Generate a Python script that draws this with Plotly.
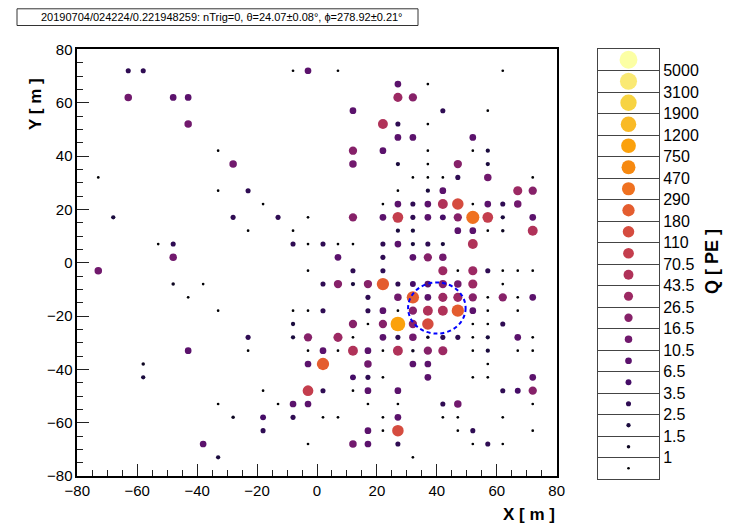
import plotly.graph_objects as go
import plotly.colors as pc

# ---------------- data: (x [m], y [m], charge level index 0..19) ----------------
x_pos = [
    -63, -58, -63, -48, -43, -43, -33, -28, -73, -33, -68, -28, -53, -48, -48, -73, -48, -38, -43, -33,
    -43, -58, -58, -33, -28, -38, -33,
    -8, -3, 7, 27, 27, 12, 22, 27, 27, 12, 22, 27, 12, -23, 27, -18, 22, 27, -13, -3, 12, 22, 27,
    -23, -8, 27, -8, -3, 2, 7, 12, 22, 27, 7, 22,
    62, 37, 32, 42, 57, 37, 32, 52, 37, 52, 57, 37, 47, 57, 32, 37, 42, 47, 57, 72,
    37, 42, 67, 72, 32, 37, 42, 47, 52, 57, 62, 67, 32, 37, 42, 47, 52, 57, 62, 72,
    32, 47, 52, 57, 62, 72, 32, 37, 42, 52, 32, 37, 42,
    -3, 12, 22, 2, 7, 12, 17, 22, 27, 17, 27, -8, -3, 2, 17, 22, 27, -8, 12, 17, 22, 27,
    -23, -8, -3, 7, 12, 22, 27, -23, -3, 2, 7, 12, 17, 22, 27, -3, 2, 17, 12, 17, 22,
    -18, -3, 2, 12, 17, 27, -13, -8, -3, 17, 27, -18, -8, 2, 7, 22, 27, -18, 17, 22, 27,
    -3, 12, 17, 27,
    42, 47, 52, 57, 62, 67, 72,
    32, 37, 42, 47, 52, 62,
    32, 37, 42, 47, 52, 57, 62, 67, 72,
    32, 37, 42, 47, 52, 57, 67,
    32, 37, 52, 57, 62,
    32, 37, 42, 47, 52, 57, 67, 72,
    32, 37, 42, 52, 57, 67, 72,
    32, 37, 57,
    37, 52, 57, 72,
    62, 67, 72,
    42, 47, 72,
    42, 47, 62,
    47, 52, 72,
    52, 57, 62,
    32,
]
y_pos = [
    72, 72, 62, 62, 62, 52, 42, 37, 32, 27, 17, 17, 7, 7, 2, -3, -8, -8, -13, -18,
    -33, -38, -43, -53, -58, -68, -73,
    72, 72, 72, 67, 62, 57, 52, 52, 47, 42, 42, 37, 37, 27, 27, 22, 22, 22, 17, 17, 17, 17, 17,
    12, 12, 12, 7, 7, 7, 7, 7, 7, 7, 2, 2,
    72, 67, 62, 57, 57, 52, 47, 47, 42, 42, 42, 37, 37, 37, 32, 32, 32, 32, 32, 32,
    27, 27, 27, 27, 22, 22, 22, 22, 22, 22, 22, 22, 17, 17, 17, 17, 17, 17, 17, 17,
    12, 12, 12, 12, 12, 12, 7, 7, 7, 7, 2, 2, 2,
    -3, -3, -3, -8, -8, -8, -8, -8, -8, -13, -13, -18, -18, -18, -18, -18, -18, -23, -23, -23, -23, -23,
    -28, -28, -28, -28, -28, -28, -28, -33, -33, -33, -33, -33, -33, -33, -33, -38, -38, -38, -43, -43, -43,
    -48, -48, -48, -48, -48, -48, -53, -53, -53, -53, -53, -58, -58, -58, -58, -58, -58, -63, -63, -63, -63,
    -68, -68, -68, -68,
    -3, -3, -3, -3, -3, -3, -3,
    -8, -8, -8, -8, -8, -8,
    -13, -13, -13, -13, -13, -13, -13, -13, -13,
    -18, -18, -18, -18, -18, -18, -18,
    -23, -23, -23, -23, -23,
    -28, -28, -28, -28, -28, -28, -28, -28,
    -33, -33, -33, -33, -33, -33, -33,
    -38, -38, -38,
    -43, -43, -43, -43,
    -48, -48, -48,
    -53, -53, -53,
    -58, -58, -58,
    -63, -63, -63,
    -68, -68, -68,
    -73,
]
q_level = [
    3, 3, 6, 5, 5, 6, 0, 6, 0, 0, 2, 3, 0, 3, 6, 6, 1, 0, 0, 0,
    5, 1, 2, 0, 1, 5, 2,
    0, 5, 0, 5, 8, 5, 9, 3, 5, 7, 5, 2, 6, 3, 0, 0, 0, 5, 3, 0, 7, 5, 10,
    0, 0, 2, 3, 0, 3, 0, 0, 3, 5, 5, 3,
    0, 0, 7, 3, 0, 0, 5, 5, 0, 0, 2, 0, 7, 2, 0, 0, 0, 3, 6, 0,
    2, 5, 8, 7, 3, 5, 9, 11, 0, 5, 3, 6, 3, 5, 4, 7, 13, 10, 2, 5,
    2, 5, 5, 0, 1, 9, 2, 3, 2, 9, 5, 7, 6,
    0, 3, 3, 3, 7, 2, 7, 12, 3, 3, 6, 0, 0, 3, 3, 5, 0, 2, 7, 0, 7, 15,
    3, 2, 7, 8, 0, 5, 3, 0, 0, 5, 0, 9, 5, 0, 9, 5, 12, 6, 4, 3, 0,
    0, 10, 3, 0, 5, 5, 0, 5, 5, 0, 0, 4, 3, 0, 0, 0, 5, 3, 5, 0, 11,
    0, 6, 5, 3,
    8, 0, 8, 3, 0, 0, 0,
    4, 5, 7, 6, 8, 0,
    12, 5, 8, 8, 7, 0, 7, 0, 5,
    7, 9, 9, 12, 5, 0, 0,
    7, 11, 0, 0, 3,
    6, 1, 3, 3, 0, 2, 5, 0,
    1, 7, 8, 0, 2, 0, 0,
    5, 5, 0,
    5, 0, 0, 5,
    3, 4, 7,
    3, 6, 0,
    0, 0, 0,
    0, 3, 0,
    0, 3, 0,
    0,
]

# legend boundaries (Q [PE]) between the 20 charge levels
level_edges = ["1", "1.5", "2.5", "3.5", "6.5", "10.5", "16.5", "26.5", "43.5", "70.5",
               "110", "180", "290", "470", "750", "1200", "1900", "3100", "5000"]

title_text = "20190704/024224/0.221948259: nTrig=0, θ=24.07±0.08°, ϕ=278.92±0.21°"

# reconstructed shower core circle
circle_cx, circle_cy, circle_r = 40.0, -17.0, 9.6

# ---------------- styling ----------------
N_LEV = 20
level_colors = pc.sample_colorscale(pc.sequential.Inferno, [l / (N_LEV - 1) for l in range(N_LEV)])
level_sizes = [2.7 + 0.8 * l for l in range(N_LEV)]

FONT = "Liberation Sans, Arial, Helvetica, sans-serif"
OFF = 8            # default page body margin
W, H = 732 - OFF, 527 - OFF


def px_x(p):
    return (p - OFF) / W


def px_y(p):
    return 1 - (p - OFF) / H


order = sorted(range(len(x_pos)), key=lambda k: q_level[k])
xs = [x_pos[k] for k in order]
ys = [y_pos[k] for k in order]
cols = [level_colors[q_level[k]] for k in order]
szs = [level_sizes[q_level[k]] for k in order]

fig = go.Figure()
fig.add_trace(go.Scatter(
    x=xs, y=ys, mode="markers",
    marker=dict(color=cols, size=szs, opacity=1, line=dict(width=0)),
    xaxis="x", yaxis="y", hoverinfo="skip",
))

# legend column
lev = list(range(N_LEV))
fig.add_trace(go.Scatter(
    x=[0.5] * N_LEV, y=[l + 0.5 for l in lev], mode="markers",
    marker=dict(color=level_colors, size=level_sizes, opacity=1, line=dict(width=0)),
    xaxis="x2", yaxis="y2", hoverinfo="skip",
))

fig.add_shape(type="circle", xref="x", yref="y",
              x0=circle_cx - circle_r, x1=circle_cx + circle_r,
              y0=circle_cy - circle_r, y1=circle_cy + circle_r,
              line=dict(color="#0000ff", width=2, dash="4px,3px"))

# title box
fig.add_shape(type="rect", xref="paper", yref="paper",
              x0=px_x(17), x1=px_x(418), y0=px_y(25.5), y1=px_y(8.8),
              line=dict(color="#333333", width=1), fillcolor="white")
fig.add_annotation(text=title_text, xref="paper", yref="paper",
                   x=px_x(222), y=px_y(16.5), showarrow=False,
                   xanchor="center", yanchor="middle",
                   font=dict(family=FONT, size=11, color="black"))

# axis titles
fig.add_annotation(text="<b>X [ m ]</b>", xref="paper", yref="paper",
                   x=px_x(557), y=px_y(514), xanchor="right", yanchor="middle",
                   showarrow=False, font=dict(family=FONT, size=17, color="black"))
fig.add_annotation(text="<b>Y [ m ]</b>", xref="paper", yref="paper",
                   x=px_x(35), y=px_y(104), xanchor="center", yanchor="middle",
                   textangle=-90, showarrow=False,
                   font=dict(family=FONT, size=17, color="black"))
fig.add_annotation(text="<b>Q [ PE ]</b>", xref="paper", yref="paper",
                   x=px_x(712), y=px_y(262), xanchor="center", yanchor="middle",
                   textangle=-90, showarrow=False,
                   font=dict(family=FONT, size=18, color="black"))

tick_vals = list(range(-80, 81, 20))
axis_common = dict(
    range=[-80, 80], tickvals=tick_vals, ticks="inside", ticklen=12, tickwidth=1,
    tickcolor="#222222", showline=True, linecolor="black", linewidth=1.5, mirror=True,
    showgrid=False, zeroline=False, automargin=False,
    tickfont=dict(family=FONT, size=15, color="black"),
    minor=dict(dtick=5, ticks="inside", ticklen=6, tickwidth=1, tickcolor="#222222", showgrid=False),
)

fig.update_layout(
    width=W, height=H,
    margin=dict(l=0, r=0, t=0, b=0),
    paper_bgcolor="white", plot_bgcolor="white",
    showlegend=False,
    xaxis=dict(domain=[px_x(77.3), px_x(556.7)], anchor="y", **axis_common),
    yaxis=dict(domain=[px_y(476), px_y(49.4)], anchor="x", **axis_common),
    xaxis2=dict(domain=[px_x(598), px_x(659)], anchor="y2", range=[0, 1],
                showline=True, linecolor="#444444", linewidth=1, mirror=True,
                showticklabels=False, ticks="", showgrid=False, zeroline=False),
    yaxis2=dict(domain=[px_y(479), px_y(49)], anchor="x2", range=[0, N_LEV],
                side="right", tickvals=list(range(1, N_LEV)), ticktext=level_edges,
                ticks="", showgrid=True, gridcolor="#444444", gridwidth=1,
                showline=True, linecolor="#444444", linewidth=1, mirror=True,
                zeroline=False, automargin=False,
                tickfont=dict(family=FONT, size=16, color="black")),
)

fig.write_html("out.html")
